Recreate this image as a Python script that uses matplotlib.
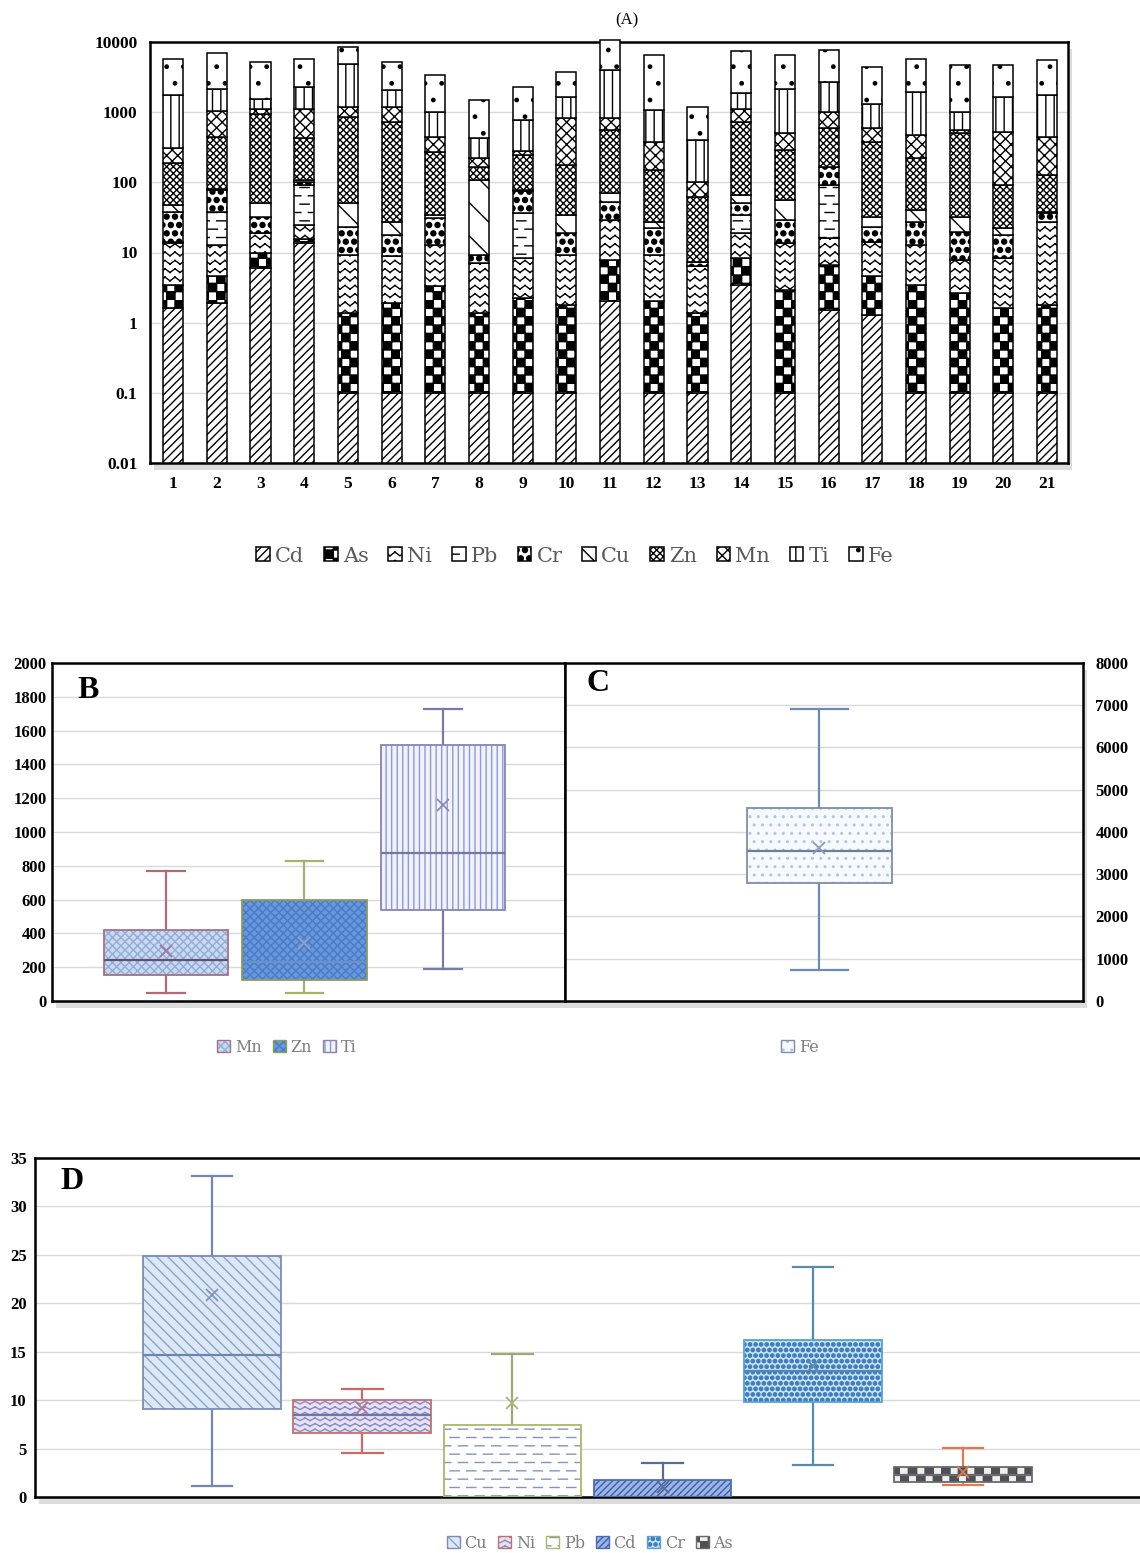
import numpy as np
import matplotlib
matplotlib.use("Agg")
import matplotlib.pyplot as plt
import matplotlib.hatch as mhatch
import matplotlib.colors as mcolors
from matplotlib.path import Path
from matplotlib.patches import Patch, Rectangle
from matplotlib.ticker import NullLocator, FixedLocator
import warnings
warnings.filterwarnings("ignore")

# ------------------------------------------------------------------ data
sites = [str(i) for i in range(1, 22)]
elements = ['Cd', 'As', 'Ni', 'Pb', 'Cr', 'Cu', 'Zn', 'Mn', 'Ti', 'Fe']

cd = [1.62, 1.91, 5.98, 13.6, 0.1, 0.1, 0.1, 0.1, 0.1, 0.1, 2.01,
      0.1, 0.1, 3.47, 0.1, 1.53, 1.30, 0.1, 0.1, 0.1, 0.1]
as_ = [1.85, 2.65, 3.8, 2.0, 1.27, 1.81, 3.19, 1.27, 2.14, 1.70, 5.86,
       1.91, 1.27, 4.83, 2.85, 5.15, 3.26, 3.37, 2.54, 1.52, 1.70]
ni = [10.1, 8.3, 9.0, 9.1, 7.9, 6.86, 9.6, 5.7, 6.06, 7.47, 21.2,
      7.26, 4.95, 10.5, 10.7, 9.3, 9.74, 9.4, 5.23, 6.7, 25.8]
pb = [0.7, 25.4, 0, 66.9, 0, 0, 0, 0, 27.9, 0, 0,
      0, 0, 15.6, 0, 75.6, 0, 0, 0, 0, 0]
cr = [24.0, 39.5, 13.7, 10.0, 14.1, 9.0, 17.9, 2.2, 39.1, 9.5, 24.0,
      12.9, 1.0, 15.8, 15.5, 75.4, 9.1, 14.7, 12.0, 9.5, 8.6]
cu = [9.3, 1.6, 17.7, 6.0, 26.8, 9.8, 3.6, 98.7, 1.5, 15.6, 16.7,
      5.4, 0, 15.8, 27.0, 0, 9.1, 12.9, 12.6, 4.4, 2.1]
zn = [138, 367, 907, 315, 809, 701, 239, 59, 168, 142, 484,
      122, 55.2, 663, 232, 420, 346, 179, 465, 69.4, 89]
mn = [118, 587, 170, 704, 332, 462, 173, 57, 34, 637, 259,
      228, 39.5, 398, 209, 424, 209, 252, 57, 433, 319]
ti = [1442, 1135, 436, 1163, 3729, 864, 565, 199, 491, 839, 3142,
      689, 298, 778, 1671, 1689, 740, 1474, 457, 1127, 1300]
fe = [4049, 4880, 3640, 3505, 3570, 3145, 2346, 1060, 1520, 2090, 6645,
      5390, 791, 5455, 4432, 4930, 3093, 3725, 3750, 3108, 3734]

a_yticks = [0.01, 0.1, 1, 10, 100, 1000, 10000]
a_yticklabels = ['0.01', '0.1', '1', '10', '100', '1000', '10000']

# box-plot summaries (panel B)
b_labels = ['Mn', 'Zn', 'Ti']
b_whislo = [45, 45, 191]
b_q1 = [156, 127, 537]
b_med = [244, 230, 878]
b_q3 = [423, 599, 1512]
b_whishi = [767, 829, 1727]
b_mean = [293, 341, 1161]

# panel C
c_labels = ['Fe']
c_whislo = [730]
c_q1 = [2802]
c_med = [3548]
c_q3 = [4576]
c_whishi = [6923]
c_mean = [3611]

# panel D
d_labels = ['Cu', 'Ni', 'Pb', 'Cd', 'Cr', 'As']
d_whislo = [1.1, 4.5, 0.0, 0.0, 3.3, 1.21]
d_q1 = [9.1, 6.6, 0.0, 0.0, 9.8, 1.56]
d_med = [14.7, 8.5, 0.0, 0.0, 13.0, 2.25]
d_q3 = [24.9, 10.0, 7.45, 1.73, 16.2, 3.05]
d_whishi = [33.1, 11.2, 14.8, 3.47, 23.7, 5.1]
d_mean = [20.9, 9.2, 9.7, 1.0, 13.5, 2.6]


# ------------------------------------------------------------ custom hatches
class HorizontalOnly(mhatch.HorizontalHatch):
    def __init__(self, hatch, density):
        self.num_lines = int(hatch.count('-') * density)
        self.num_vertices = self.num_lines * 2


class VerticalOnly(mhatch.VerticalHatch):
    def __init__(self, hatch, density):
        self.num_lines = int(hatch.count('|') * density)
        self.num_vertices = self.num_lines * 2


class DashHatch(mhatch.HatchPatternBase):
    dashes = 6

    def __init__(self, hatch, density):
        self.rows = hatch.count('+') * int(density)
        self.num_vertices = self.rows * (self.dashes + 1) * 2

    def set_vertices_and_codes(self, vertices, codes):
        m = self.dashes
        L = 0.55 / m
        vv = []
        for r in range(self.rows):
            y = (r + 0.5) / self.rows
            off = 0.0 if r % 2 == 0 else 0.5 / m
            for k in range(m + 1):
                x0 = k / m + off - 0.5 / m
                vv.append([x0, y])
                vv.append([x0 + L, y])
        vertices[:] = np.array(vv)
        codes[:] = np.tile([Path.MOVETO, Path.LINETO], len(vv) // 2)


class CheckerHatch(mhatch.HatchPatternBase):
    def __init__(self, hatch, density):
        self.n = hatch.count('O') * int(density)
        if self.n % 2:
            self.n += 1
        self.num_vertices = (self.n * self.n // 2) * 5 if self.n else 0

    def set_vertices_and_codes(self, vertices, codes):
        s = 1.0 / self.n
        vv = []
        for i in range(self.n):
            for j in range(self.n):
                if (i + j) % 2 == 0:
                    x0, y0 = i * s, j * s
                    vv.append([[x0, y0], [x0 + s, y0], [x0 + s, y0 + s],
                               [x0, y0 + s], [x0, y0]])
        vertices[:] = np.array(vv).reshape(-1, 2)
        codes[:] = np.tile([Path.MOVETO, Path.LINETO, Path.LINETO,
                            Path.LINETO, Path.CLOSEPOLY], len(vv))


class ZigzagHatch(mhatch.HatchPatternBase):
    teeth = 10

    def __init__(self, hatch, density):
        self.rows = hatch.count('o') * int(density)
        self.num_vertices = self.rows * self.teeth * 2 * 2

    def set_vertices_and_codes(self, vertices, codes):
        m = self.teeth
        xs = np.linspace(0, 1, 2 * m + 1)
        vv = []
        for r in range(self.rows):
            y0 = (r + 0.3) / self.rows
            amp = 0.45 / self.rows
            ys = [y0 + (amp if k % 2 else 0) for k in range(2 * m + 1)]
            for k in range(2 * m):
                vv.append([xs[k], ys[k]])
                vv.append([xs[k + 1], ys[k + 1]])
        vertices[:] = np.array(vv)
        codes[:] = np.tile([Path.MOVETO, Path.LINETO], len(vv) // 2)


class BlobHatch(mhatch.Circles):
    size = 0.3
    filled = True

    def __init__(self, hatch, density):
        self.num_rows = hatch.count('*') * int(density)
        super().__init__(hatch, density)


_drop = (mhatch.SmallCircles, mhatch.LargeCircles, mhatch.Stars,
         mhatch.HorizontalHatch, mhatch.VerticalHatch)
mhatch._hatch_types[:] = ([HorizontalOnly, VerticalOnly] +
                          [t for t in mhatch._hatch_types if t not in _drop] +
                          [DashHatch, CheckerHatch, ZigzagHatch, BlobHatch])


def set_hc(p, c):
    if hasattr(p, 'set_hatchcolor'):
        p.set_hatchcolor(c)
    else:
        p._hatch_color = mcolors.to_rgba(c)


plt.rcParams['hatch.linewidth'] = 1.0
SERIF = ['Liberation Serif', 'DejaVu Serif']
LEGF = ['DejaVu Serif']

W, H = 1140, 1553
fig = plt.figure(figsize=(W / 100, H / 100), dpi=100)
fig.patch.set_facecolor('white')


def frac(x0, y0, x1, y1):
    return [x0 / W, 1 - y1 / H, (x1 - x0) / W, (y1 - y0) / H]


def shadow(x0, y0, x1, y1, dx=4, dy=7):
    fig.add_artist(Rectangle((x0 / W + dx / W, 1 - y1 / H - dy / H),
                             (x1 - x0) / W, (y1 - y0) / H,
                             transform=fig.transFigure, facecolor='#dcdcdc',
                             edgecolor='none', zorder=-5))


def style_axes(ax, lw=1.8):
    for s in ax.spines.values():
        s.set_linewidth(lw)
        s.set_color('black')
    ax.tick_params(length=0)
    ax.set_axisbelow(True)
    ax.yaxis.grid(True, color='#d9d9d9', linewidth=1.0)
    ax.xaxis.grid(False)


def bold_ticklabels(ax, size):
    for lab in ax.get_xticklabels() + ax.get_yticklabels():
        lab.set_fontfamily(SERIF)
        lab.set_fontweight('bold')
        lab.set_fontsize(size)


# ------------------------------------------------------------------ panel A
shadow(150, 42, 1068, 463)
axA = fig.add_axes(frac(150, 42, 1068, 463))
series = [cd, as_, ni, pb, cr, cu, zn, mn, ti, fe]
hatchesA = ['////', 'OO', 'oo', '++', '**', '\\', 'xxxxx', 'xxx', '||', '.']
x = np.arange(1, len(sites) + 1)
ymin = 0.01
bottom = np.full(len(sites), ymin)
for i, (name, vals, h) in enumerate(zip(elements, series, hatchesA)):
    vals = np.asarray(vals, float)
    heights = vals - ymin if i == 0 else vals
    axA.bar(x, heights, width=0.46, bottom=bottom, facecolor='white',
            edgecolor='black', linewidth=1.1, hatch=h, label=name,
            clip_on=False, zorder=3)
    bottom = bottom + heights
axA.set_yscale('log')
axA.set_ylim(0.01, 10000)
axA.set_xlim(0.47, 21.48)
axA.yaxis.set_major_locator(FixedLocator(a_yticks))
axA.yaxis.set_minor_locator(NullLocator())
axA.set_yticks(a_yticks)
axA.set_yticklabels(a_yticklabels)
axA.set_xticks(x)
axA.set_xticklabels(sites)
style_axes(axA)
axA.tick_params(axis='y', pad=9)
axA.tick_params(axis='x', pad=9)
bold_ticklabels(axA, 12.5)
fig.text(627 / W, 1 - 20 / H, '(A)', ha='center', va='center',
         fontsize=12, family=SERIF)
hA, lA = axA.get_legend_handles_labels()
legA = fig.legend(hA, lA, loc='center', bbox_to_anchor=(575 / W, 1 - 556 / H),
                  ncol=10, frameon=False, handlelength=0.65, handleheight=0.65,
                  handletextpad=0.25, columnspacing=0.95,
                  prop={'family': LEGF, 'size': 15})
for t in legA.get_texts():
    t.set_color('#595959')


# ---------------------------------------------------------- helper for boxes
def draw_boxes(ax, labels, whislo, q1, med, q3, whishi, mean, positions,
               width, capw, styles):
    stats = []
    for i, lab in enumerate(labels):
        stats.append(dict(label=lab, whislo=whislo[i], q1=q1[i], med=med[i],
                          q3=q3[i], whishi=whishi[i], mean=mean[i], fliers=[]))
    bp = ax.bxp(stats, positions=positions, widths=width, patch_artist=True,
                showmeans=True, showfliers=False, capwidths=capw,
                manage_ticks=False)
    handles = []
    for i, st in enumerate(styles):
        box = bp['boxes'][i]
        box.set_facecolor(st['face'])
        box.set_edgecolor(st['edge'])
        box.set_linewidth(1.3)
        box.set_hatch(st['hatch'])
        box.set_zorder(3)
        set_hc(box, st['hc'])
        for ln in bp['whiskers'][2 * i:2 * i + 2] + bp['caps'][2 * i:2 * i + 2]:
            ln.set_color(st['whisk'])
            ln.set_linewidth(1.6)
        bp['medians'][i].set_color(st['med'])
        bp['medians'][i].set_linewidth(1.6)
        bp['medians'][i].set_zorder(4)
        mk = bp['means'][i]
        mk.set_marker('x')
        mk.set_markersize(9)
        mk.set_markeredgewidth(1.3)
        mk.set_markeredgecolor(st['mean'])
        mk.set_markerfacecolor(st['mean'])
        mk.set_zorder(5)
        hp = Patch(facecolor=st['face'], edgecolor=st['edge'], hatch=st['hatch'],
                   linewidth=1.0, label=labels[i])
        set_hc(hp, st['hc'])
        handles.append(hp)
    return handles


def small_legend(handles, cx, cy):
    lg = fig.legend(handles=handles, loc='center', bbox_to_anchor=(cx / W, 1 - cy / H),
                    ncol=len(handles), frameon=False, handlelength=0.8,
                    handleheight=0.8, handletextpad=0.3, columnspacing=0.7,
                    prop={'family': LEGF, 'size': 11.5})
    for t in lg.get_texts():
        t.set_color('#7f7f7f')
    return lg


# ------------------------------------------------------------------ panel B
shadow(52, 663, 1083, 1001)
axB = fig.add_axes(frac(52, 663, 565, 1001))
stylesB = [
    dict(face='#c9d9f1', edge='#a77283', hatch='xxxx', hc='#93acd8',
         whisk='#b06a7a', med='#5f5478', mean='#9a7aa6'),
    dict(face='#6897dc', edge='#8d9c58', hatch='xxxx', hc='#4a7bc6',
         whisk='#a8b070', med='#6a90c8', mean='#90a0c8'),
    dict(face='#f1f2fb', edge='#8585b2', hatch='|||', hc='#8d9bd0',
         whisk='#7a7aa6', med='#76769e', mean='#8c8cb4'),
]
hB = draw_boxes(axB, b_labels, b_whislo, b_q1, b_med, b_q3, b_whishi, b_mean,
                [1, 2, 3], 0.9, 0.27, stylesB)
axB.set_ylim(0, 2000)
axB.set_xlim(0.177, 3.881)
axB.set_yticks(np.arange(0, 2001, 200))
axB.set_xticks([])
style_axes(axB)
axB.tick_params(axis='y', pad=4)
bold_ticklabels(axB, 12)
axB.text(0.07, 0.92, 'B', transform=axB.transAxes, fontsize=23,
         fontweight='bold', family=SERIF, ha='center', va='center')
small_legend(hB, 287, 1047)

# ------------------------------------------------------------------ panel C
axC = fig.add_axes(frac(565, 663, 1083, 1001))
stylesC = [dict(face='#f6f9fd', edge='#7f8fa6', hatch='..', hc='#b4c6e0',
                whisk='#6d8bb0', med='#6d7f99', mean='#8a9cb8')]
hC = draw_boxes(axC, c_labels, c_whislo, c_q1, c_med, c_q3, c_whishi, c_mean,
                [1], 0.56, 0.22, stylesC)
axC.set_ylim(0, 8000)
axC.set_xlim(0.019, 2.019)
axC.set_yticks(np.arange(0, 8001, 1000))
axC.set_xticks([])
axC.yaxis.tick_right()
style_axes(axC)
axC.tick_params(axis='y', pad=9)
bold_ticklabels(axC, 12)
axC.text(0.064, 0.94, 'C', transform=axC.transAxes, fontsize=23,
         fontweight='bold', family=SERIF, ha='center', va='center')
small_legend(hC, 800, 1047)

# ------------------------------------------------------------------ panel D
shadow(35, 1158, 1160, 1497)
axD = fig.add_axes(frac(35, 1158, 1160, 1497))
stylesD = [
    dict(face='#dde8f7', edge='#7b8db3', hatch='\\\\\\', hc='#8ca2ca',
         whisk='#7388b0', med='#6f84ac', mean='#7f93bb'),
    dict(face='#ecdff0', edge='#c27070', hatch='ooo', hc='#8090c8',
         whisk='#c86a6a', med='#6a78a8', mean='#b07a90'),
    dict(face='#ffffff', edge='#aab86a', hatch='++', hc='#7f97bc',
         whisk='#a3a770', med='#aab86a', mean='#b0b080'),
    dict(face='#9bb5e6', edge='#4c6cb2', hatch='/////', hc='#3e5ea8',
         whisk='#5b6b92', med='#4c6cb2', mean='#5b6b92'),
    dict(face='#cfe5f5', edge='#5aa3d3', hatch='***', hc='#3f7fbd',
         whisk='#5a8aa8', med='#4f86b5', mean='#5a8aa8'),
    dict(face='#eeeeee', edge='#6a6a6a', hatch='OO', hc='#4f4f5a',
         whisk='#e07a52', med='#6a6a6a', mean='#e07a52'),
]
hD = draw_boxes(axD, d_labels, d_whislo, d_q1, d_med, d_q3, d_whishi, d_mean,
                [1, 2, 3, 4, 5, 6], 0.915, 0.27, stylesD)
axD.set_ylim(0, 35)
axD.set_xlim(-0.178, 7.31)
axD.set_yticks(np.arange(0, 36, 5))
axD.set_xticks([])
style_axes(axD)
axD.tick_params(axis='y', pad=6)
bold_ticklabels(axD, 12)
axD.text(0.033, 0.93, 'D', transform=axD.transAxes, fontsize=23,
         fontweight='bold', family=SERIF, ha='center', va='center')
small_legend(hD, 590, 1543)

fig.savefig('out.png', dpi=100, facecolor='white')
